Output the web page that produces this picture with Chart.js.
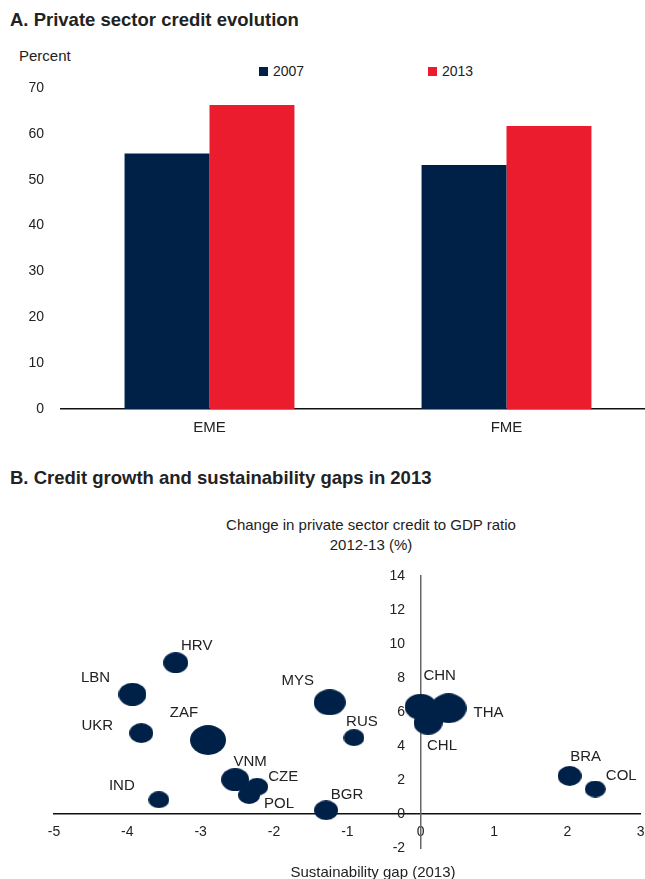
<!DOCTYPE html>
<html>
<head>
<meta charset="utf-8">
<script src="https://cdn.jsdelivr.net/npm/chart.js@4/dist/chart.umd.min.js"></script>
<style>
  body { margin: 0; background: #fff; font-family: 'Liberation Sans', Arial, sans-serif; color: #222; }
  #page { position: relative; width: 645px; height: 879px; overflow: hidden; }
  .title { position: absolute; left: 10px; font-weight: bold; font-size: 18.5px; color: #222; }
  .txt { position: absolute; font-size: 15px; color: #222; white-space: nowrap; }
  .leg { position: absolute; font-size: 14px; color: #222; white-space: nowrap; }
  .sw { display: inline-block; width: 9px; height: 9px; margin-right: 5px; vertical-align: 0px; }
  canvas { position: absolute; left: 0; }
</style>
</head>
<body>
<div id="page">
  <div class="title" style="top:9px">A. Private sector credit evolution</div>
  <div class="txt" style="left:19px; top:47px">Percent</div>
  <div id="legend"></div>
  <canvas id="bars" width="655" height="440" style="top:0"></canvas>

  <div class="title" style="top:467px">B. Credit growth and sustainability gaps in 2013</div>
  <div class="txt" style="left:0; width:742px; top:515px; text-align:center; line-height:20px">Change in private sector credit to GDP ratio<br>2012-13 (%)</div>
  <canvas id="bubbles" width="657" height="379" style="top:500px"></canvas>
  <div class="txt" style="left:0; width:746px; top:863px; text-align:center">Sustainability gap (2013)</div>
</div>
<script>
// Panel A data
var categories = ['EME', 'FME'];
var seriesNames = ['2007', '2013'];
var credit2007 = [55.7, 53.2];
var credit2013 = [66.3, 61.7];
var percentTicks = [0, 10, 20, 30, 40, 50, 60, 70];

// Panel B data
var countries = ['HRV', 'LBN', 'UKR', 'ZAF', 'IND', 'VNM', 'CZE', 'POL', 'BGR', 'MYS', 'RUS', 'CHN', 'THA', 'CHL', 'BRA', 'COL'];
var sustainabilityGap = [-3.34, -3.93, -3.81, -2.90, -3.57, -2.53, -2.23, -2.34, -1.29, -1.24, -0.91, 0.00, 0.38, 0.10, 2.03, 2.38];
var creditChange = [8.9, 7.04, 4.76, 4.35, 0.84, 2.02, 1.61, 1.12, 0.22, 6.57, 4.49, 6.31, 6.22, 5.37, 2.24, 1.47];
var bubbleSize = [11.3, 12.9, 11.1, 16.3, 9.4, 12.9, 9.9, 9.8, 11, 14.4, 9.4, 14.5, 16.3, 13, 11, 9.5];

var navy = '#002147';
var red = '#EB1C2E';
var font = "'Liberation Sans', Arial, sans-serif";

// label placement relative to each bubble (pixels)
var labelOffsets = {
    HRV: [21, -17], LBN: [-37, -16], UKR: [-44, -7], ZAF: [-24, -27], IND: [-37, -14],
    VNM: [15, -18], CZE: [26, -10], POL: [30, 9], BGR: [21, -15], MYS: [-32, -21],
    RUS: [8, -16], CHN: [19, -31], THA: [40, 5], CHL: [14, 23], BRA: [16, -19], COL: [26, -13]
};

// legend for panel A
var legendPos = [259, 428];
var legendColors = [navy, red];
var legendHtml = '';
seriesNames.forEach(function (name, i) {
    legendHtml += '<div class="leg" style="left:' + legendPos[i] + 'px; top:63px"><span class="sw" style="background:' + legendColors[i] + '"></span>' + name + '</div>';
});
document.getElementById('legend').innerHTML = legendHtml;

Chart.defaults.font.family = font;
Chart.defaults.font.size = 14;
Chart.defaults.color = '#222';

new Chart(document.getElementById('bars'), {
    type: 'bar',
    data: {
        labels: categories,
        datasets: [
            { label: seriesNames[0], data: credit2007, backgroundColor: navy },
            { label: seriesNames[1], data: credit2013, backgroundColor: red }
        ]
    },
    options: {
        responsive: false,
        animation: false,
        categoryPercentage: 0.572,
        barPercentage: 1,
        layout: { padding: { top: 88, right: 0, left: 0, bottom: 0 } },
        plugins: { legend: { display: false }, tooltip: { enabled: false } },
        scales: {
            x: {
                grid: { display: false, drawTicks: false },
                border: { display: true, color: '#111', width: 1.5 },
                ticks: { padding: 10, font: { size: 15 } },
                afterFit: function (scale) { scale.height = 31; }
            },
            y: {
                min: 0,
                max: 70,
                afterBuildTicks: function (scale) {
                    scale.ticks = percentTicks.map(function (v) { return { value: v }; });
                },
                grid: { display: false, drawTicks: false },
                border: { display: false },
                ticks: { padding: 17 },
                afterFit: function (scale) { scale.width = 61; }
            }
        }
    }
});

var bubbleLabels = {
    id: 'bubbleLabels',
    afterDatasetsDraw: function (chart) {
        var ctx = chart.ctx;
        var meta = chart.getDatasetMeta(0);
        ctx.save();
        ctx.font = '15px ' + font;
        ctx.fillStyle = '#222';
        ctx.textAlign = 'center';
        ctx.textBaseline = 'middle';
        meta.data.forEach(function (pt, i) {
            var off = labelOffsets[countries[i]];
            ctx.fillText(countries[i], pt.x + off[0], pt.y + off[1]);
        });
        ctx.restore();
    }
};

var ellipseCache = {};
function ellipseStyle(r) {
    if (ellipseCache[r]) return ellipseCache[r];
    var c = document.createElement('canvas');
    var w = Math.round(r * 2.2), h = Math.round(r * 1.82);
    c.width = w;
    c.height = h;
    var g = c.getContext('2d');
    g.fillStyle = navy;
    g.beginPath();
    g.ellipse(w / 2, h / 2, w / 2, h / 2, 0, 0, Math.PI * 2);
    g.fill();
    ellipseCache[r] = c;
    return c;
}

new Chart(document.getElementById('bubbles'), {
    type: 'bubble',
    data: {
        datasets: [{
            label: 'Countries',
            data: countries.map(function (c, i) {
                return { x: sustainabilityGap[i], y: creditChange[i], r: bubbleSize[i] };
            }),
            backgroundColor: navy,
            borderWidth: 0,
            pointStyle: function (ctx) {
                return ctx.raw ? ellipseStyle(ctx.raw.r) : 'circle';
            }
        }]
    },
    options: {
        responsive: false,
        animation: false,
        layout: { padding: { top: 76, left: 54, right: 5, bottom: 31 } },
        plugins: { legend: { display: false }, tooltip: { enabled: false } },
        scales: {
            x: {
                type: 'linear',
                position: { y: 0 },
                min: -5,
                max: 3,
                ticks: { stepSize: 1, padding: 10, color: '#222' },
                grid: { display: false, drawTicks: false },
                border: { display: true, color: '#111', width: 1.5 }
            },
            y: {
                type: 'linear',
                position: { x: 0 },
                min: -2,
                max: 14,
                ticks: {
                    stepSize: 2,
                    color: '#222',
                    // centred axes ignore tick padding, so pad the label text
                    callback: function (v) { return v + '    '; }
                },
                grid: { display: false, drawTicks: false },
                border: { display: true, color: '#666', width: 1.5 }
            }
        }
    },
    plugins: [bubbleLabels]
});
</script>
</body>
</html>
